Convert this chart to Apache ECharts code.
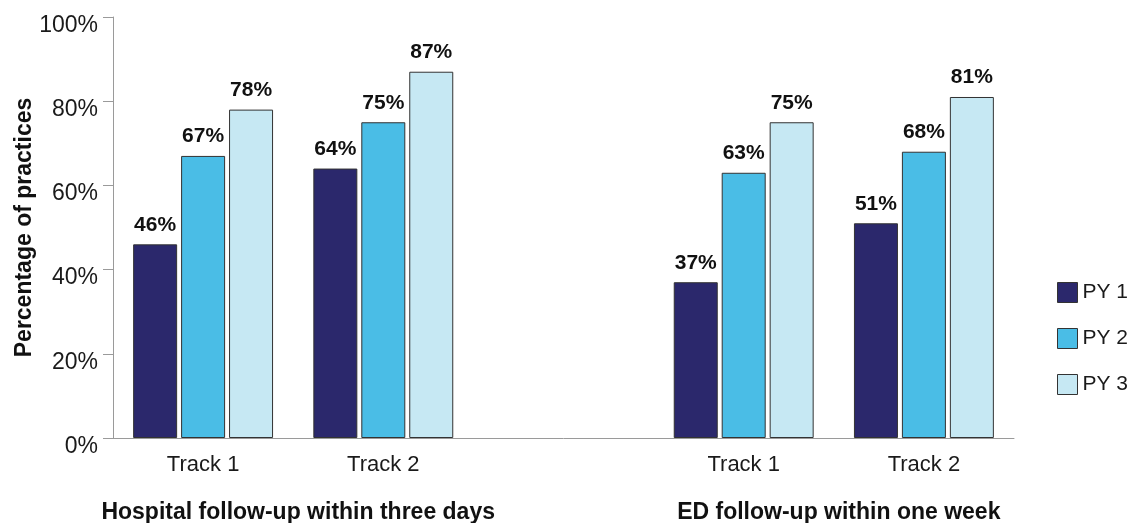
<!DOCTYPE html>
<html>
<head>
<meta charset="utf-8">
<script src="https://cdn.jsdelivr.net/npm/echarts@6/dist/echarts.min.js"></script>
<style>
html,body{margin:0;padding:0;background:#fff;}
#chart{width:1134px;height:523px;}
</style>
</head>
<body>
<div id="chart"></div>
<script>
// categories: Track 1, Track 2 (Hospital) | spacer | Track 1, Track 2 (ED)
const categories = ["Track 1", "Track 2", "", "Track 1", "Track 2"];
const groupTitles = ["Hospital follow-up within three days", "ED follow-up within one week"];
const seriesNames = ["PY 1", "PY 2", "PY 3"];
const py1 = [46, 64, null, 37, 51];
const py2 = [67, 75, null, 63, 68];
const py3 = [78, 87, null, 75, 81];
const yTicks = [0, 20, 40, 60, 80, 100];

const colors = ["#2B286C", "#4ABDE6", "#C6E8F3"];
const font = "Liberation Sans, Arial, Helvetica, sans-serif";

const chart = echarts.init(document.getElementById("chart"), null, {renderer: "canvas"});

const gridLeft = 113, gridWidth = 901;
const catW = gridWidth / categories.length;

function mkSeries(name, vals, i) {
  return {
    name: name, type: "bar", data: vals,
    barWidth: 44, barGap: "9%", barCategoryGap: "22%",
    itemStyle: {color: colors[i], borderColor: "#333", borderWidth: 1},
    label: {show: true, position: "top", distance: 9, formatter: "{c}%",
      color: "#111", fontSize: 21, fontWeight: "bold", fontFamily: font}
  };
}

chart.setOption({
  animation: false,
  color: colors,
  title: groupTitles.map((t, gi) => ({
    text: t,
    left: gridLeft + catW * (gi * 3 + 1),
    textAlign: "center",
    top: 496,
    textStyle: {color: "#111", fontSize: 23, fontWeight: "bold", fontFamily: font}
  })),
  legend: {
    data: seriesNames, orient: "vertical", left: 1052, top: 277,
    icon: "rect",
    itemWidth: 20, itemHeight: 20, itemGap: 25,
    itemStyle: {borderColor: "#333", borderWidth: 1},
    textStyle: {color: "#1a1a1a", fontSize: 21, fontFamily: font}
  },
  grid: {left: gridLeft, width: gridWidth, top: 17, bottom: 85, outerBoundsMode: "none", containLabel: false},
  xAxis: {
    type: "category", data: categories,
    axisLine: {show: true, lineStyle: {color: "#9a9a9a", width: 1}},
    axisTick: {show: false},
    axisLabel: {color: "#1a1a1a", fontSize: 22, fontFamily: font, margin: 16, interval: 0}
  },
  yAxis: {
    type: "value", min: 0, max: 100, interval: 20,
    axisLine: {show: true, lineStyle: {color: "#9a9a9a", width: 1}},
    axisTick: {show: true, inside: false, length: 10, lineStyle: {color: "#9a9a9a"}},
    splitLine: {show: false},
    axisLabel: {color: "#1a1a1a", fontSize: 23, fontFamily: font, margin: 15,
      verticalAlign: "top", lineHeight: 17,
      formatter: v => yTicks.includes(v) ? v + "%" : ""},
    name: "Percentage of practices",
    nameLocation: "middle", nameGap: 77, nameMoveOverlap: false,
    nameTextStyle: {color: "#111", fontSize: 23, fontWeight: "bold", fontFamily: font}
  },
  series: [mkSeries(seriesNames[0], py1, 0), mkSeries(seriesNames[1], py2, 1), mkSeries(seriesNames[2], py3, 2)]
});
</script>
</body>
</html>
